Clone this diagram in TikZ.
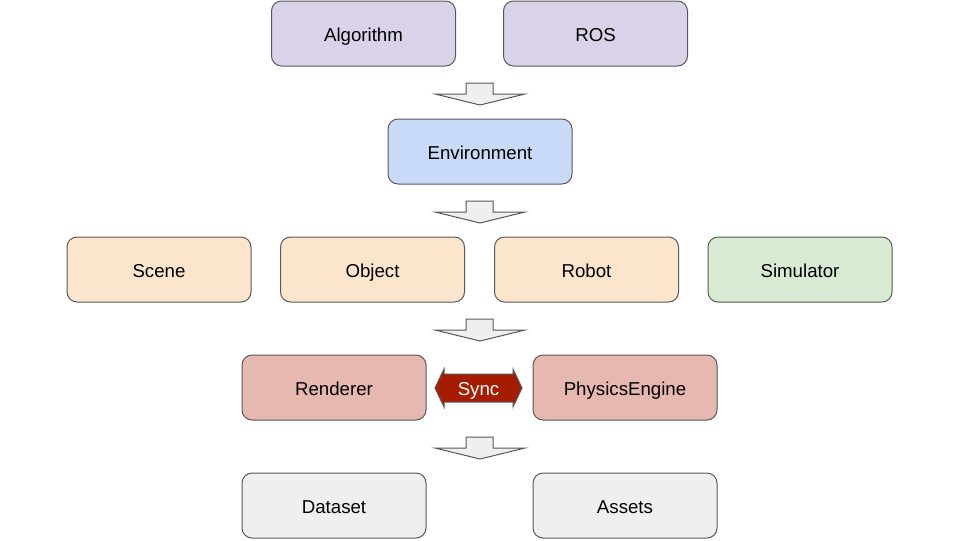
\documentclass[tikz,border=0pt]{standalone}
\usepackage{fontspec}
\setmainfont{Liberation Sans}
\definecolor{strokegray}{HTML}{595959}
\definecolor{cpurple}{HTML}{D9D2E9}
\definecolor{cblue}{HTML}{C9DAF8}
\definecolor{corange}{HTML}{FCE5CD}
\definecolor{cgreen}{HTML}{D9EAD3}
\definecolor{cred}{HTML}{E6B8AF}
\definecolor{cgray}{HTML}{EFEFEF}
\definecolor{csync}{HTML}{A61C00}
\definecolor{carrow}{HTML}{EFEFEF}
\begin{document}
\begin{tikzpicture}[x=0.75pt,y=-0.75pt,
  box/.style={draw=strokegray, line width=0.75pt, rounded corners=7.5pt,
    minimum width=138pt, minimum height=48.75pt, font=\fontsize{14pt}{16pt}\selectfont,
    inner sep=0pt, text height=12pt, text depth=0pt},
  downarrow/.style={draw=strokegray, line width=0.75pt, fill=carrow, line join=miter}]
\useasboundingbox (0,0) rectangle (960,540);
\fill[white] (0,0) rectangle (960,540);
% row 1
\node[box, fill=cpurple] (alg) at (363.5,33.5) {Algorithm};
\node[box, fill=cpurple] (ros) at (595.5,33.5) {ROS};
% row 2
\node[box, fill=cblue] (env) at (480,151.5) {Environment};
% row 3
\node[box, fill=corange] (scene) at (159,269.5) {Scene};
\node[box, fill=corange] (object) at (372.5,269.5) {Object};
\node[box, fill=corange] (robot) at (586.5,269.5) {Robot};
\node[box, fill=cgreen] (sim) at (800,269.5) {Simulator};
% row 4
\node[box, fill=cred] (rend) at (334,387.5) {Renderer};
\node[box, fill=cred] (phys) at (625,387.5) {PhysicsEngine};
% row 5
\node[box, fill=cgray] (data) at (334,505.5) {Dataset};
\node[box, fill=cgray] (assets) at (625,505.5) {Assets};
% down arrows
\foreach \yy/\nm in {83/a1,201/a2,319/a3,437/a4}{
  \draw[downarrow] (466,\yy) -- (493,\yy) -- (493,\yy+11) -- (525,\yy+11)
    -- (480,\yy+22) -- (435,\yy+11) -- (466,\yy+11) -- cycle;
}
% sync double arrow
\draw[draw=strokegray, line width=0.75pt, fill=csync, line join=miter]
  (435,388) -- (444,369) -- (444,374) -- (513,374) -- (513,369) -- (522,388)
  -- (513,407) -- (513,402) -- (444,402) -- (444,407) -- cycle;
\node[text=white, font=\fontsize{14pt}{16pt}\selectfont, inner sep=0pt,
  text height=10.5pt, text depth=0pt] (sync) at (478.5,388) {Sync};
\end{tikzpicture}
\end{document}
